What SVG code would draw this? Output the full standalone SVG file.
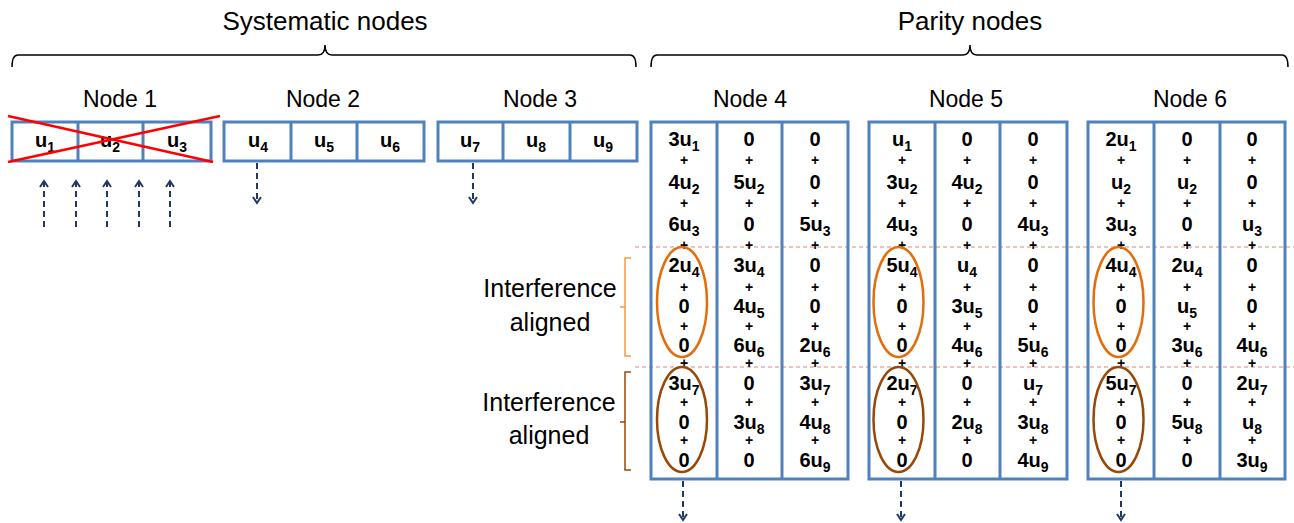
<svg xmlns="http://www.w3.org/2000/svg" width="1294" height="523" viewBox="0 0 1294 523">
<style>
.title{font-family:"Liberation Sans",Arial,sans-serif;font-size:26px;fill:#000;text-anchor:middle}
.lbl{font-family:"Liberation Sans",Arial,sans-serif;font-size:23px;fill:#000;text-anchor:middle}
.ia{font-family:"Liberation Sans",Arial,sans-serif;font-size:25px;fill:#000;text-anchor:middle}
.box{fill:none;stroke:#4F81BD;stroke-width:3}
.div{stroke:#4F81BD;stroke-width:3}
.t{font-family:"Liberation Sans",Arial,sans-serif;font-weight:bold;font-size:20px;fill:#000;text-anchor:middle}
.sub{font-size:14px}
.p{font-family:"Liberation Sans",Arial,sans-serif;font-weight:bold;font-size:14px;fill:#000;text-anchor:middle}
.brace{fill:none;stroke:#000;stroke-width:1.5}
.sep{stroke:#D9837F;stroke-width:1.2;stroke-dasharray:4,3}
.arr{stroke:#1F3864;stroke-width:2;stroke-dasharray:6,4;fill:none}
.ell1{fill:none;stroke:#E46C0A;stroke-width:2.5}
.ell2{fill:none;stroke:#984807;stroke-width:2.5}
.x{stroke:#FF0000;stroke-width:2.5}
</style>
<defs>
<marker id="ah" viewBox="0 0 10 10" refX="5" refY="2" markerWidth="10" markerHeight="10" markerUnits="userSpaceOnUse" orient="0">
<path d="M1,8 L5,2 L9,8" fill="none" stroke="#1F3864" stroke-width="2" stroke-dasharray="none"/>
</marker>
<marker id="ad" viewBox="0 0 10 10" refX="5" refY="8" markerWidth="10" markerHeight="10" markerUnits="userSpaceOnUse" orient="0">
<path d="M1,2 L5,8 L9,2" fill="none" stroke="#1F3864" stroke-width="2" stroke-dasharray="none"/>
</marker>
</defs>
<rect width="1294" height="523" fill="#fff"/>

<g id="titles">
<text class="title" x="325" y="30">Systematic nodes</text>
<path class="brace" d="M12,67 Q12,55 18,55 L318,55 Q325,55 325,45 Q325,55 332,55 L630,55 Q636,55 636,67"/>
<text class="title" x="970" y="30">Parity nodes</text>
<path class="brace" d="M651,67 Q651,55 657,55 L963,55 Q970,55 970,45 Q970,55 977,55 L1282,55 Q1288,55 1288,67"/>
</g>

<g id="separators">
<line class="sep" x1="635" y1="247" x2="1294" y2="247"/>
<line class="sep" x1="635" y1="367" x2="1294" y2="367"/>
</g>

<g id="interference">
<path fill="none" stroke="#F79646" stroke-width="1.5" d="M631,258 L625,258 L625,356 L631,356 M625,307 L620,307"/>
<text class="ia" x="550" y="297">Interference</text>
<text class="ia" x="550" y="331">aligned</text>
<path fill="none" stroke="#984807" stroke-width="1.5" d="M631,372 L625,372 L625,470 L631,470 M625,422 L620,422"/>
<text class="ia" x="549" y="411">Interference</text>
<text class="ia" x="549" y="444">aligned</text>
</g>

<g id="node1">
<text class="lbl" x="120" y="107">Node 1</text>
<rect class="box" x="12" y="122" width="199" height="39"/>
<line class="div" x1="78" y1="122" x2="78" y2="161"/>
<line class="div" x1="143" y1="122" x2="143" y2="161"/>
<text class="t" x="45" y="147">u<tspan class="sub" dy="5">1</tspan></text>
<text class="t" x="110" y="147">u<tspan class="sub" dy="5">2</tspan></text>
<text class="t" x="177" y="147">u<tspan class="sub" dy="5">3</tspan></text>
<line class="x" x1="8" y1="116" x2="213" y2="162"/>
<line class="x" x1="8" y1="162" x2="220" y2="116"/>
</g>

<g id="node2">
<text class="lbl" x="323" y="107">Node 2</text>
<rect class="box" x="224" y="122" width="200" height="39"/>
<line class="div" x1="291" y1="122" x2="291" y2="161"/>
<line class="div" x1="357" y1="122" x2="357" y2="161"/>
<text class="t" x="258" y="147">u<tspan class="sub" dy="5">4</tspan></text>
<text class="t" x="324" y="147">u<tspan class="sub" dy="5">5</tspan></text>
<text class="t" x="390" y="147">u<tspan class="sub" dy="5">6</tspan></text>
</g>

<g id="node3">
<text class="lbl" x="540" y="107">Node 3</text>
<rect class="box" x="438" y="122" width="199" height="39"/>
<line class="div" x1="503" y1="122" x2="503" y2="161"/>
<line class="div" x1="570" y1="122" x2="570" y2="161"/>
<text class="t" x="470" y="147">u<tspan class="sub" dy="5">7</tspan></text>
<text class="t" x="536" y="147">u<tspan class="sub" dy="5">8</tspan></text>
<text class="t" x="603" y="147">u<tspan class="sub" dy="5">9</tspan></text>
</g>

<g id="node4">
<text class="lbl" x="750" y="107">Node 4</text>
<rect class="box" x="651" y="122" width="197" height="357"/>
<line class="div" x1="717" y1="122" x2="717" y2="479"/>
<line class="div" x1="782" y1="122" x2="782" y2="479"/>
<text class="t" x="684" y="146">3u<tspan class="sub" dy="5">1</tspan></text>
<text class="t" x="684" y="189">4u<tspan class="sub" dy="5">2</tspan></text>
<text class="t" x="684" y="231">6u<tspan class="sub" dy="5">3</tspan></text>
<text class="t" x="684" y="272">2u<tspan class="sub" dy="5">4</tspan></text>
<text class="t" x="684" y="313">0</text>
<text class="t" x="684" y="352">0</text>
<text class="t" x="684" y="390">3u<tspan class="sub" dy="5">7</tspan></text>
<text class="t" x="684" y="429">0</text>
<text class="t" x="684" y="467">0</text>
<text class="t" x="749" y="146">0</text>
<text class="t" x="749" y="189">5u<tspan class="sub" dy="5">2</tspan></text>
<text class="t" x="749" y="231">0</text>
<text class="t" x="749" y="272">3u<tspan class="sub" dy="5">4</tspan></text>
<text class="t" x="749" y="313">4u<tspan class="sub" dy="5">5</tspan></text>
<text class="t" x="749" y="352">6u<tspan class="sub" dy="5">6</tspan></text>
<text class="t" x="749" y="390">0</text>
<text class="t" x="749" y="429">3u<tspan class="sub" dy="5">8</tspan></text>
<text class="t" x="749" y="467">0</text>
<text class="t" x="815" y="146">0</text>
<text class="t" x="815" y="189">0</text>
<text class="t" x="815" y="231">5u<tspan class="sub" dy="5">3</tspan></text>
<text class="t" x="815" y="272">0</text>
<text class="t" x="815" y="313">0</text>
<text class="t" x="815" y="352">2u<tspan class="sub" dy="5">6</tspan></text>
<text class="t" x="815" y="390">3u<tspan class="sub" dy="5">7</tspan></text>
<text class="t" x="815" y="429">4u<tspan class="sub" dy="5">8</tspan></text>
<text class="t" x="815" y="467">6u<tspan class="sub" dy="5">9</tspan></text>
<g>
<text class="p" x="684" y="165">+</text><text class="p" x="684" y="208">+</text><text class="p" x="684" y="250">+</text><text class="p" x="684" y="292">+</text><text class="p" x="684" y="331">+</text><text class="p" x="684" y="368">+</text><text class="p" x="684" y="407">+</text><text class="p" x="684" y="445">+</text>
<text class="p" x="749" y="165">+</text><text class="p" x="749" y="208">+</text><text class="p" x="749" y="250">+</text><text class="p" x="749" y="292">+</text><text class="p" x="749" y="331">+</text><text class="p" x="749" y="368">+</text><text class="p" x="749" y="407">+</text><text class="p" x="749" y="445">+</text>
<text class="p" x="815" y="165">+</text><text class="p" x="815" y="208">+</text><text class="p" x="815" y="250">+</text><text class="p" x="815" y="292">+</text><text class="p" x="815" y="331">+</text><text class="p" x="815" y="368">+</text><text class="p" x="815" y="407">+</text><text class="p" x="815" y="445">+</text>
</g>
<ellipse class="ell1" cx="682" cy="302" rx="25" ry="55"/>
<ellipse class="ell2" cx="682" cy="419.5" rx="25" ry="52.5"/>
</g>

<g id="node5">
<text class="lbl" x="966" y="107">Node 5</text>
<rect class="box" x="869" y="122" width="198" height="357"/>
<line class="div" x1="935" y1="122" x2="935" y2="479"/>
<line class="div" x1="1000" y1="122" x2="1000" y2="479"/>
<text class="t" x="902" y="146">u<tspan class="sub" dy="5">1</tspan></text>
<text class="t" x="902" y="189">3u<tspan class="sub" dy="5">2</tspan></text>
<text class="t" x="902" y="231">4u<tspan class="sub" dy="5">3</tspan></text>
<text class="t" x="902" y="272">5u<tspan class="sub" dy="5">4</tspan></text>
<text class="t" x="902" y="313">0</text>
<text class="t" x="902" y="352">0</text>
<text class="t" x="902" y="390">2u<tspan class="sub" dy="5">7</tspan></text>
<text class="t" x="902" y="429">0</text>
<text class="t" x="902" y="467">0</text>
<text class="t" x="967" y="146">0</text>
<text class="t" x="967" y="189">4u<tspan class="sub" dy="5">2</tspan></text>
<text class="t" x="967" y="231">0</text>
<text class="t" x="967" y="272">u<tspan class="sub" dy="5">4</tspan></text>
<text class="t" x="967" y="313">3u<tspan class="sub" dy="5">5</tspan></text>
<text class="t" x="967" y="352">4u<tspan class="sub" dy="5">6</tspan></text>
<text class="t" x="967" y="390">0</text>
<text class="t" x="967" y="429">2u<tspan class="sub" dy="5">8</tspan></text>
<text class="t" x="967" y="467">0</text>
<text class="t" x="1033" y="146">0</text>
<text class="t" x="1033" y="189">0</text>
<text class="t" x="1033" y="231">4u<tspan class="sub" dy="5">3</tspan></text>
<text class="t" x="1033" y="272">0</text>
<text class="t" x="1033" y="313">0</text>
<text class="t" x="1033" y="352">5u<tspan class="sub" dy="5">6</tspan></text>
<text class="t" x="1033" y="390">u<tspan class="sub" dy="5">7</tspan></text>
<text class="t" x="1033" y="429">3u<tspan class="sub" dy="5">8</tspan></text>
<text class="t" x="1033" y="467">4u<tspan class="sub" dy="5">9</tspan></text>
<g>
<text class="p" x="902" y="165">+</text><text class="p" x="902" y="208">+</text><text class="p" x="902" y="250">+</text><text class="p" x="902" y="292">+</text><text class="p" x="902" y="331">+</text><text class="p" x="902" y="368">+</text><text class="p" x="902" y="407">+</text><text class="p" x="902" y="445">+</text>
<text class="p" x="967" y="165">+</text><text class="p" x="967" y="208">+</text><text class="p" x="967" y="250">+</text><text class="p" x="967" y="292">+</text><text class="p" x="967" y="331">+</text><text class="p" x="967" y="368">+</text><text class="p" x="967" y="407">+</text><text class="p" x="967" y="445">+</text>
<text class="p" x="1033" y="165">+</text><text class="p" x="1033" y="208">+</text><text class="p" x="1033" y="250">+</text><text class="p" x="1033" y="292">+</text><text class="p" x="1033" y="331">+</text><text class="p" x="1033" y="368">+</text><text class="p" x="1033" y="407">+</text><text class="p" x="1033" y="445">+</text>
</g>
<ellipse class="ell1" cx="898.5" cy="302" rx="25" ry="55"/>
<ellipse class="ell2" cx="898.5" cy="419.5" rx="25" ry="52.5"/>
</g>

<g id="node6">
<text class="lbl" x="1190" y="107">Node 6</text>
<rect class="box" x="1088" y="122" width="197" height="357"/>
<line class="div" x1="1154" y1="122" x2="1154" y2="479"/>
<line class="div" x1="1220" y1="122" x2="1220" y2="479"/>
<text class="t" x="1121" y="146">2u<tspan class="sub" dy="5">1</tspan></text>
<text class="t" x="1121" y="189">u<tspan class="sub" dy="5">2</tspan></text>
<text class="t" x="1121" y="231">3u<tspan class="sub" dy="5">3</tspan></text>
<text class="t" x="1121" y="272">4u<tspan class="sub" dy="5">4</tspan></text>
<text class="t" x="1121" y="313">0</text>
<text class="t" x="1121" y="352">0</text>
<text class="t" x="1121" y="390">5u<tspan class="sub" dy="5">7</tspan></text>
<text class="t" x="1121" y="429">0</text>
<text class="t" x="1121" y="467">0</text>
<text class="t" x="1187" y="146">0</text>
<text class="t" x="1187" y="189">u<tspan class="sub" dy="5">2</tspan></text>
<text class="t" x="1187" y="231">0</text>
<text class="t" x="1187" y="272">2u<tspan class="sub" dy="5">4</tspan></text>
<text class="t" x="1187" y="313">u<tspan class="sub" dy="5">5</tspan></text>
<text class="t" x="1187" y="352">3u<tspan class="sub" dy="5">6</tspan></text>
<text class="t" x="1187" y="390">0</text>
<text class="t" x="1187" y="429">5u<tspan class="sub" dy="5">8</tspan></text>
<text class="t" x="1187" y="467">0</text>
<text class="t" x="1252" y="146">0</text>
<text class="t" x="1252" y="189">0</text>
<text class="t" x="1252" y="231">u<tspan class="sub" dy="5">3</tspan></text>
<text class="t" x="1252" y="272">0</text>
<text class="t" x="1252" y="313">0</text>
<text class="t" x="1252" y="352">4u<tspan class="sub" dy="5">6</tspan></text>
<text class="t" x="1252" y="390">2u<tspan class="sub" dy="5">7</tspan></text>
<text class="t" x="1252" y="429">u<tspan class="sub" dy="5">8</tspan></text>
<text class="t" x="1252" y="467">3u<tspan class="sub" dy="5">9</tspan></text>
<g>
<text class="p" x="1121" y="165">+</text><text class="p" x="1121" y="208">+</text><text class="p" x="1121" y="250">+</text><text class="p" x="1121" y="292">+</text><text class="p" x="1121" y="331">+</text><text class="p" x="1121" y="368">+</text><text class="p" x="1121" y="407">+</text><text class="p" x="1121" y="445">+</text>
<text class="p" x="1187" y="165">+</text><text class="p" x="1187" y="208">+</text><text class="p" x="1187" y="250">+</text><text class="p" x="1187" y="292">+</text><text class="p" x="1187" y="331">+</text><text class="p" x="1187" y="368">+</text><text class="p" x="1187" y="407">+</text><text class="p" x="1187" y="445">+</text>
<text class="p" x="1252" y="165">+</text><text class="p" x="1252" y="208">+</text><text class="p" x="1252" y="250">+</text><text class="p" x="1252" y="292">+</text><text class="p" x="1252" y="331">+</text><text class="p" x="1252" y="368">+</text><text class="p" x="1252" y="407">+</text><text class="p" x="1252" y="445">+</text>
</g>
<ellipse class="ell1" cx="1118.5" cy="302" rx="25" ry="55"/>
<ellipse class="ell2" cx="1118.5" cy="419.5" rx="25" ry="52.5"/>
</g>

<g id="connectors">
<line class="arr" x1="44" y1="227" x2="44" y2="181" marker-end="url(#ah)"/>
<line class="arr" x1="76" y1="227" x2="76" y2="181" marker-end="url(#ah)"/>
<line class="arr" x1="107" y1="227" x2="107" y2="181" marker-end="url(#ah)"/>
<line class="arr" x1="139" y1="227" x2="139" y2="181" marker-end="url(#ah)"/>
<line class="arr" x1="170" y1="227" x2="170" y2="181" marker-end="url(#ah)"/>
<line class="arr" x1="257" y1="163" x2="257" y2="203" marker-end="url(#ad)"/>
<line class="arr" x1="473" y1="163" x2="473" y2="203" marker-end="url(#ad)"/>
<line class="arr" x1="683" y1="481" x2="683" y2="520" marker-end="url(#ad)"/>
<line class="arr" x1="901" y1="481" x2="901" y2="520" marker-end="url(#ad)"/>
<line class="arr" x1="1121" y1="481" x2="1121" y2="520" marker-end="url(#ad)"/>
</g>
</svg>
